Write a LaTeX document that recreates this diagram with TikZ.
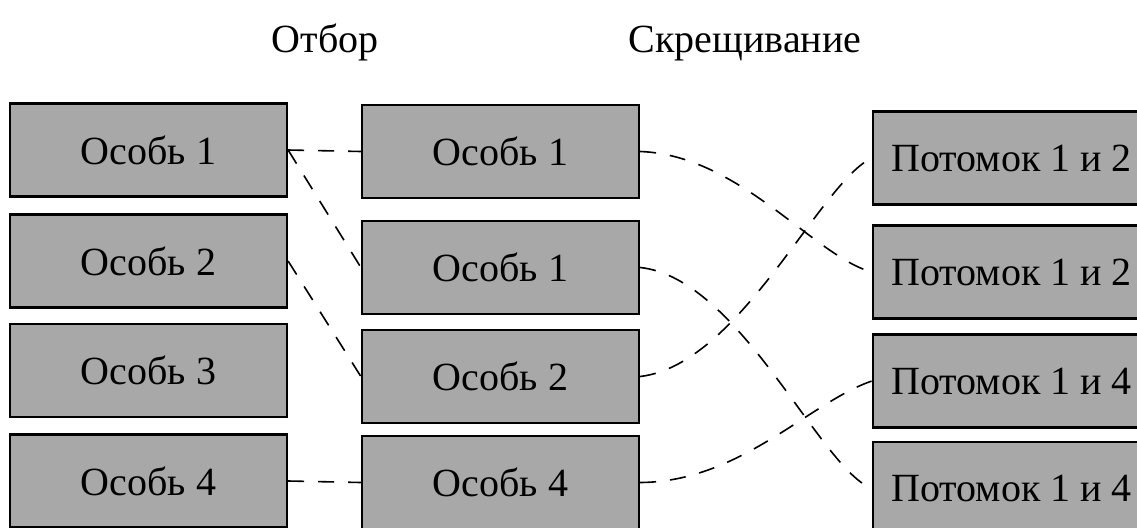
\documentclass[tikz,border=0pt]{standalone}
\usepackage{fontspec}
\setmainfont{Liberation Serif}
\definecolor{boxgray}{gray}{0.66}
\tikzset{
  osob/.style={draw, line width=1.1pt, fill=boxgray, minimum width=138.5pt,
    minimum height=46.5pt, inner sep=0pt, font=\fontsize{20}{24}\selectfont},
  title/.style={anchor=base, font=\fontsize{20}{24}\selectfont},
  link/.style={line width=0.8pt, dash pattern=on 8pt off 7pt}
}
\begin{document}
\begin{tikzpicture}[x=0.5pt,y=0.5pt]
	\useasboundingbox (0,0) rectangle (1137,527);
	\clip (0,0) rectangle (1137,527);
	
	\node[title] (otbor) at (325,475) {Отбор};
	\node[title] (skresh) at (745,475) {Скрещивание};
	
	% population
	\node[osob] (l1) at (148.5,377) {Особь 1};
	\node[osob] (l2) at (148.5,266) {Особь 2};
	\node[osob] (l3) at (148.5,156.5) {Особь 3};
	\node[osob] (l4) at (148.5,46) {Особь 4};
	
	% selected
	\node[osob] (m1) at (500.5,375.5) {Особь 1};
	\node[osob] (m2) at (500.5,259.5) {Особь 1};
	\node[osob] (m3) at (500.5,150.5) {Особь 2};
	\node[osob] (m4) at (500.5,44.5) {Особь 4};
	
	% offspring
	\node[osob] (r1) at (1011.5,369) {Потомок 1 и 2};
	\node[osob] (r2) at (1011.5,255) {Потомок 1 и 2};
	\node[osob] (r3) at (1011.5,146) {Потомок 1 и 4};
	\node[osob] (r4) at (1011.5,38.5) {Потомок 1 и 4};
	
	\draw[link] (l1.east) -- (m1.west);
	\draw[link] (l1.east) -- (m2.west);
	\draw[link] (l2.east) -- (m3.west);
	\draw[link] (l4.east) -- (m4.west);
	
	\draw[link] (m1.east) .. controls (740,372) and (815,270) .. (r2.west);
	\draw[link] (m3.east) .. controls (740,162) and (820,345) .. (r1.west);
	\draw[link] (m2.east) .. controls (740,249) and (820,58) .. (r4.west);
	\draw[link] (m4.east) .. controls (740,45) and (810,125) .. (r3.west);
\end{tikzpicture}
\end{document}
